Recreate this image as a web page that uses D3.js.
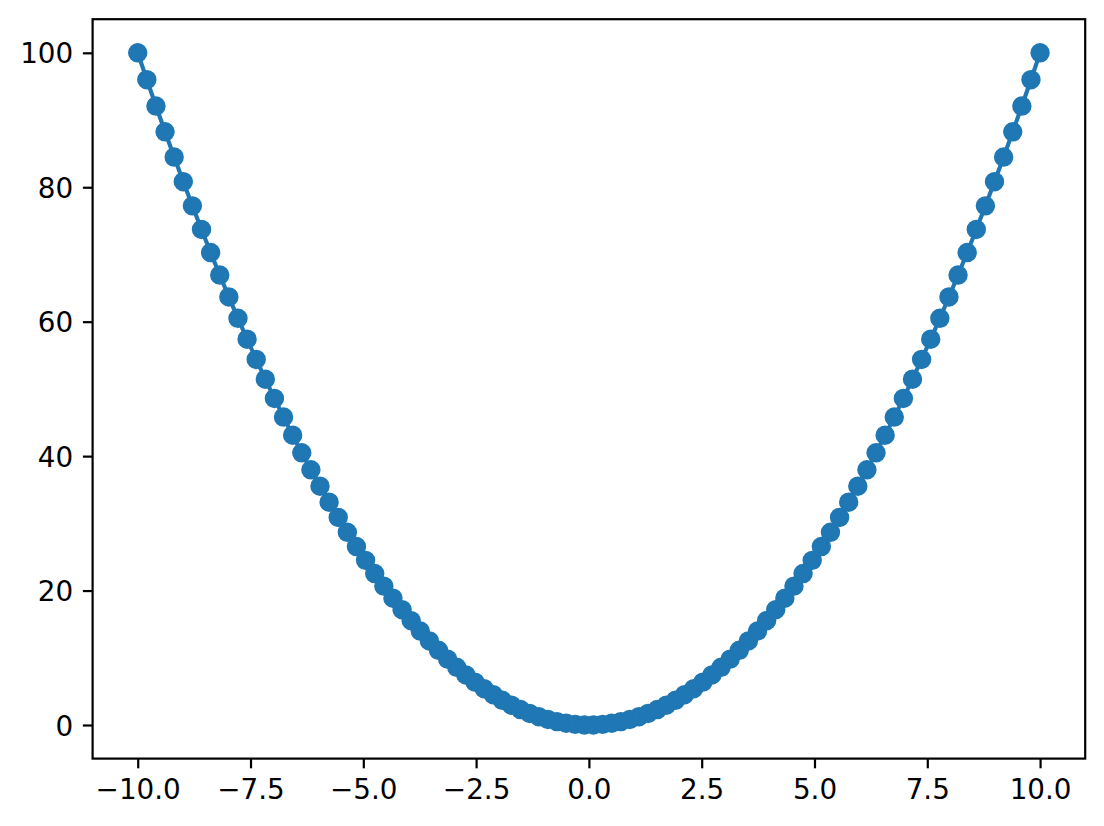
<!DOCTYPE html>
<html>
<head>
<meta charset="utf-8">
<script src="https://cdn.jsdelivr.net/npm/d3@7"></script>
<style>
html,body{margin:0;padding:0;background:#fff;}
svg{display:block;}
text{font-family:"DejaVu Sans",sans-serif;}
</style>
</head>
<body>
<svg id="chart" width="1104" height="826"></svg>
<script>
// Data (left half; right half mirrors it)
const xLeft = [-10.000,-9.798,-9.596,-9.394,-9.192,-8.990,-8.788,-8.586,-8.384,-8.182,
  -7.980,-7.778,-7.576,-7.374,-7.172,-6.970,-6.768,-6.566,-6.364,-6.162,
  -5.960,-5.758,-5.556,-5.354,-5.152,-4.949,-4.747,-4.545,-4.343,-4.141,
  -3.939,-3.737,-3.535,-3.333,-3.131,-2.929,-2.727,-2.525,-2.323,-2.121,
  -1.919,-1.717,-1.515,-1.313,-1.111,-0.909,-0.707,-0.505,-0.303,-0.101];
const yLeft = [100.00,96.00,92.08,88.25,84.49,80.82,77.23,73.72,70.29,66.94,
  63.68,60.50,57.40,54.38,51.44,48.58,45.81,43.11,40.50,37.97,
  35.52,33.15,30.87,28.66,26.54,24.49,22.53,20.66,18.86,17.15,
  15.52,13.97,12.50,11.11,9.80,8.58,7.44,6.38,5.40,4.50,
  3.68,2.95,2.30,1.72,1.23,0.83,0.50,0.26,0.09,0.01];
const xRight = [0.101,0.303,0.505,0.707,0.909,1.111,1.313,1.515,1.717,1.919,
  2.121,2.323,2.525,2.727,2.929,3.131,3.333,3.535,3.737,3.939,
  4.141,4.343,4.545,4.747,4.949,5.152,5.354,5.556,5.758,5.960,
  6.162,6.364,6.566,6.768,6.970,7.172,7.374,7.576,7.778,7.980,
  8.182,8.384,8.586,8.788,8.990,9.192,9.394,9.596,9.798,10.000];
const yRight = [0.01,0.09,0.26,0.50,0.83,1.23,1.72,2.30,2.95,3.68,
  4.50,5.40,6.38,7.44,8.58,9.80,11.11,12.50,13.97,15.52,
  17.15,18.86,20.66,22.53,24.49,26.54,28.66,30.87,33.15,35.52,
  37.97,40.50,43.11,45.81,48.58,51.44,54.38,57.40,60.50,63.68,
  66.94,70.29,73.72,77.23,80.82,84.49,88.25,92.08,96.00,100.00];
const xTicks = [-10,-7.5,-5,-2.5,0,2.5,5,7.5,10];
const yTicks = [0,20,40,60,80,100];

const xs = xLeft.concat(xRight);
const ys = yLeft.concat(yRight);
const data = xs.map((x,i)=>({x:x,y:ys[i]}));

const svg = d3.select("#chart");
const L = 92.6, R = 1085.2, T = 19.2, B = 758.6;
const x = d3.scaleLinear().domain([-11, 11]).range([L, R]);
const y = d3.scaleLinear().domain([-5, 105]).range([B, T]);
const color = "#1f77b4";
const fs = 27.8, tickLen = 9.7, pad = 9.7, sw = 2.2;

const fmtX = d => (d < 0 ? "\u2212" : "") + Math.abs(d).toFixed(1);
const fmtY = d => (d < 0 ? "\u2212" : "") + Math.abs(d).toFixed(0);

// line
svg.append("path").datum(data)
  .attr("fill","none").attr("stroke",color).attr("stroke-width",4.17)
  .attr("stroke-linejoin","round").attr("stroke-linecap","square")
  .attr("d", d3.line().x(d=>x(d.x)).y(d=>y(d.y)));

// markers
svg.append("g").selectAll("circle").data(data).join("circle")
  .attr("cx",d=>x(d.x)).attr("cy",d=>y(d.y)).attr("r",8.33)
  .attr("fill",color).attr("stroke",color).attr("stroke-width",2.78);

// axes
const xAxis = d3.axisBottom(x).tickValues(xTicks).tickFormat(fmtX)
  .tickSizeInner(tickLen).tickSizeOuter(0).tickPadding(pad);
const yAxis = d3.axisLeft(y).tickValues(yTicks).tickFormat(fmtY)
  .tickSizeInner(tickLen).tickSizeOuter(0).tickPadding(pad);

const gx = svg.append("g").attr("transform",`translate(0,${B})`).call(xAxis);
const gy = svg.append("g").attr("transform",`translate(${L},0)`).call(yAxis);
[gx,gy].forEach(g=>{
  g.select(".domain").remove();
  g.selectAll(".tick line").attr("stroke","#000").attr("stroke-width",sw);
  g.selectAll(".tick text").attr("fill","#000").attr("font-size",fs)
    .attr("font-family","DejaVu Sans, sans-serif");
});
gx.selectAll(".tick text").attr("dy","0.76em");
gy.selectAll(".tick text").attr("dy","0.36em");

// frame
svg.append("rect").attr("x",L).attr("y",T).attr("width",R-L).attr("height",B-T)
  .attr("fill","none").attr("stroke","#000").attr("stroke-width",sw)
  .attr("stroke-linejoin","miter");
</script>
</body>
</html>
